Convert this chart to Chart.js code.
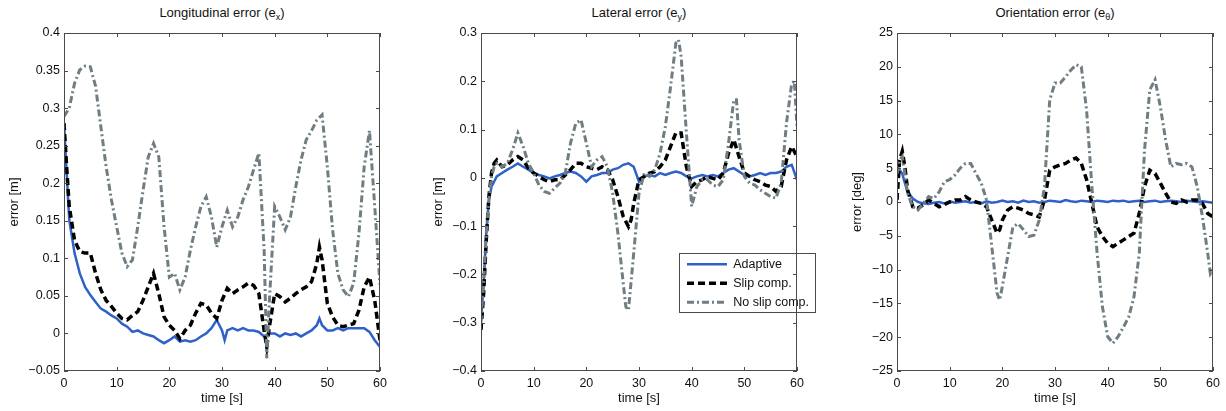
<!DOCTYPE html>
<html lang="en">
<head>
<meta charset="UTF-8">
<title>Tracking errors</title>
<script src="https://cdn.jsdelivr.net/npm/chart.js"></script>
<style>
  body { margin: 0; background: #fff; }
  #wrap { position: relative; width: 1226px; height: 411px; font-family: 'Liberation Sans', Arial, sans-serif; }
  .plotTitle { position: absolute; top: 5px; width: 300px; text-align: center; font-size: 13px; line-height: 16px; color: #111; }
  .plotTitle sub { font-size: 9px; vertical-align: -3px; line-height: 0; }
  canvas { position: absolute; top: 0; }
</style>
</head>
<body>
<div id="wrap">
  <div class="plotTitle" style="left:72px">Longitudinal error (e<sub>x</sub>)</div>
  <div class="plotTitle" style="left:489px">Lateral error (e<sub>y</sub>)</div>
  <div class="plotTitle" style="left:905px">Orientation error (e<sub>θ</sub>)</div>
  <canvas id="chartX" width="405" height="411" style="left:0"></canvas>
  <canvas id="chartY" width="425" height="411" style="left:405px"></canvas>
  <canvas id="chartTheta" width="396" height="411" style="left:830px"></canvas>
</div>

<script>
// series names (legend)
const seriesNames = ['Adaptive', 'Slip comp.', 'No slip comp.'];

// ---- longitudinal error e_x [m] ----
const exAdaptiveT = [0,0.5,1,2,3,4,5,6,7,8,9,10,11,12,13,14,15,16,17,18,19,20,21,22,23,24,25,26,27,28,29,30,30.5,31,32,33,34,35,36,37,38,39,40,41,42,43,44,45,46,47,48,48.5,49,50,51,52,53,54,55,56,57,58,59,60];
const exAdaptive = [0.280,0.215,0.151,0.107,0.080,0.062,0.051,0.042,0.033,0.029,0.024,0.020,0.013,0.009,0.002,0.004,0,-0.002,-0.004,-0.009,-0.013,-0.009,-0.004,-0.011,-0.009,-0.011,-0.009,-0.004,0,0.007,0.018,0.004,-0.009,0.004,0.007,0.004,0.007,0.004,0.004,0.002,-0.004,0,0,-0.004,0,-0.002,0,-0.004,0,0.004,0.011,0.020,0.011,0.004,0.004,0.007,0.004,0.007,0.007,0.007,0.007,0.002,-0.009,-0.018];
const exSlipT = [0,0.5,1,2,3,4,5,6,7,8,9,10,11,12,13,14,15,16,17,18,19,20,21,22,23,24,25,26,27,28,29,30,31,32,33,34,35,36,37,38,38.5,39,40,41,42,43,44,45,46,47,48,48.5,49,50,51,52,53,54,55,56,57,58,59,60];
const exSlip = [0.280,0.222,0.169,0.124,0.109,0.107,0.107,0.080,0.058,0.044,0.036,0.027,0.020,0.018,0.024,0.029,0.044,0.062,0.080,0.053,0.022,0.011,0.004,-0.007,0.004,0.011,0.027,0.040,0.038,0.027,0.020,0.044,0.060,0.053,0.058,0.062,0.067,0.064,0.053,0.004,-0.018,0.009,0.053,0.049,0.042,0.047,0.053,0.058,0.062,0.069,0.093,0.115,0.098,0.040,0.022,0.011,0.009,0.011,0.013,0.031,0.062,0.075,0.044,-0.009];
const exNoSlipT = [0,1,2,3,4,5,6,7,8,9,10,11,12,13,14,15,16,17,18,19,20,21,22,23,24,25,26,27,28,29,30,31,32,33,34,35,36,37,38,38.5,39,40,41,42,43,44,45,46,47,48,49,50,51,52,53,54,55,56,57,58,59,60];
const exNoSlip = [0.289,0.300,0.333,0.351,0.356,0.355,0.329,0.275,0.222,0.178,0.142,0.107,0.089,0.098,0.142,0.190,0.235,0.253,0.235,0.142,0.075,0.080,0.058,0.075,0.111,0.142,0.169,0.182,0.155,0.115,0.142,0.164,0.142,0.155,0.178,0.195,0.218,0.240,0.111,-0.033,0.044,0.169,0.155,0.138,0.155,0.195,0.231,0.258,0.270,0.284,0.291,0.222,0.138,0.080,0.058,0.049,0.067,0.133,0.222,0.270,0.169,0.065];

// ---- lateral error e_y [m] ----
const eyAdaptiveT = [0,0.5,1,1.5,2,3,4,5,6,7,8,9,10,11,12,13,14,15,16,17,18,19,20,21,22,23,24,25,26,27,28,29,30,31,32,33,34,35,36,37,38,39,40,41,42,43,44,45,46,47,48,49,50,51,52,53,54,55,56,57,58,59,60];
const eyAdaptive = [-0.294,-0.218,-0.115,-0.046,-0.018,0.003,0.010,0.017,0.023,0.030,0.023,0.017,0.010,0.006,0.003,-0.001,0.003,0.006,0.010,0.013,0.010,0.003,-0.008,0.003,0.006,0.010,0.010,0.017,0.020,0.027,0.030,0.023,-0.008,0.003,0.006,0.003,0.010,0.006,0.010,0.013,0.010,0.003,-0.001,0.003,0.006,0.003,0.006,0.003,0.010,0.017,0.020,0.013,0.006,0.003,0.006,0.010,0.006,0.010,0.010,0.013,0.023,0.027,-0.004];
const eySlipT = [0,0.5,1,1.5,2,2.5,3,4,5,6,7,8,9,10,11,12,13,14,15,16,17,18,19,20,21,22,23,24,25,26,27,28,28.5,29,30,31,32,33,34,35,36,37,38,39,40,41,42,43,44,45,46,47,48,49,50,51,52,53,54,55,56,57,58,59,60];
const eySlip = [-0.315,-0.239,-0.129,-0.039,0.010,0.030,0.037,0.023,0.027,0.037,0.044,0.037,0.020,0.010,0.003,-0.004,-0.008,-0.004,-0.004,0.006,0.017,0.030,0.030,0.023,0.020,0.017,0.023,0.017,-0.004,-0.039,-0.080,-0.101,-0.087,-0.053,-0.004,0.003,0.010,0.013,0.023,0.037,0.065,0.093,0.093,0.023,-0.018,-0.008,-0.004,0.003,-0.001,-0.004,0.010,0.051,0.079,0.044,0.010,0.003,-0.004,-0.008,-0.015,-0.018,-0.028,-0.018,0.037,0.065,0.044];
const eyNoSlipT = [0,0.5,1,1.5,2,2.5,3,4,5,6,7,8,9,10,11,12,13,14,15,16,17,18,19,20,21,22,23,24,25,26,27,27.5,28,29,30,31,32,33,34,35,36,37,37.5,38,39,40,41,42,43,44,45,46,47,48,48.5,49,50,51,52,53,54,55,56,57,58,59,59.5,60];
const eyNoSlip = [-0.300,-0.218,-0.115,-0.046,0.003,0.023,0.030,0.023,0.030,0.058,0.093,0.065,0.030,0.010,-0.015,-0.028,-0.032,-0.021,-0.011,0.010,0.072,0.113,0.120,0.072,0.023,0.037,0.044,0.023,-0.032,-0.115,-0.218,-0.267,-0.274,-0.156,-0.032,0.010,0.003,0.017,0.051,0.106,0.189,0.279,0.286,0.252,0.093,-0.059,-0.018,-0.004,-0.004,-0.015,-0.018,-0.004,0.072,0.162,0.162,0.079,0.003,-0.011,-0.015,-0.025,-0.032,-0.039,-0.042,-0.011,0.113,0.196,0.200,0.106];

// ---- orientation error e_theta [deg] ----
const etAdaptiveT = [0,0.5,1,1.5,2,3,4,5,6,7,8,9,10,11,12,13,14,15,16,17,18,19,20,21,22,23,24,25,26,27,28,29,30,31,32,33,34,35,36,37,38,39,40,41,42,43,44,45,46,47,48,49,50,51,52,53,54,55,56,57,58,59,60];
const etAdaptive = [5.0,4.7,4.2,2.8,1.5,0.5,0.0,-0.2,-0.3,-0.1,0.0,-0.2,0.1,-0.1,0.0,0.1,-0.1,0.0,-0.2,0.1,-0.1,0.0,0.2,0.0,0.1,-0.1,0.2,0.0,0.1,-0.1,0.0,0.2,0.1,0.0,0.3,0.1,0.0,0.2,0.1,0.0,0.2,0.1,0.0,0.2,0.1,0.2,0.0,0.1,0.2,0.0,0.1,0.2,0.0,0.1,0.2,0.1,0.0,0.2,0.1,0.0,0.1,0.0,-0.1];
const etSlipT = [0,0.3,0.5,1,1.5,2,3,4,5,6,7,8,9,10,11,12,13,14,15,16,17,18,19,19.5,20,21,22,23,24,25,26,27,28,29,30,31,32,33,34,35,36,37,38,39,40,41,42,43,44,45,46,47,48,49,50,51,52,53,54,55,56,57,58,59,60];
const etSlip = [0.3,3.8,6.2,7.5,5.2,1.8,-0.7,-0.9,-0.4,0.3,-0.2,-0.7,-0.4,0.0,0.3,0.3,0.8,0.3,0.0,-0.2,-0.7,-2.7,-4.6,-4.1,-2.7,-1.2,-0.7,-0.9,-1.2,-1.7,-1.9,-2.2,0.3,4.7,5.2,5.5,5.7,6.2,6.5,5.7,3.3,-0.2,-3.7,-5.1,-6.1,-6.6,-6.1,-5.6,-5.1,-4.6,-1.7,2.3,4.7,4.2,2.8,1.3,0.0,-0.2,0.3,0.0,0.3,0.3,-0.2,-1.7,-2.2];
const etNoSlipT = [0,0.5,1,1.5,2,3,4,5,6,7,8,9,10,11,12,13,14,15,16,17,18,19,19.5,20,21,22,23,24,25,26,27,28,29,30,31,32,33,34,35,36,37,38,39,40,41,42,43,44,45,46,47,48,49,50,51,52,53,54,55,56,57,58,59,59.5,60];
const etNoSlip = [4.2,6.2,6.7,4.2,1.3,-0.7,-1.2,-0.2,0.8,0.5,1.5,3.0,3.3,4.0,5.0,5.7,5.7,4.2,2.8,0.3,-6.6,-13.5,-14.5,-12.5,-8.1,-3.7,-3.2,-4.1,-5.1,-4.9,-2.7,2.3,15.1,17.6,17.6,18.5,19.5,20.3,20.0,13.6,2.3,-7.6,-15.5,-19.9,-20.9,-19.9,-18.5,-17.0,-14.0,-7.6,7.7,16.6,18.1,14.1,9.2,5.2,5.7,5.5,5.7,5.2,2.3,-2.2,-7.6,-10.6,-10.0];

// ---- styling ----
Chart.defaults.font.family = "'Liberation Sans', Arial, sans-serif";
Chart.defaults.font.size = 12.5;
Chart.defaults.color = '#111';

const lineStyles = [
    { borderColor: '#2f62c9', borderWidth: 2.5, borderDash: [], order: 3 },
    { borderColor: '#000000', borderWidth: 3.5, borderDash: [7, 4], order: 2 },
    { borderColor: '#707d82', borderWidth: 3, borderDash: [7, 3, 2, 3], order: 1 }
];

function pts(t, v) {
    return t.map((x, i) => ({ x: x, y: v[i] }));
}

function fmt(v) {
    const r = Math.round(v * 100) / 100;
    return r < 0 ? '\u2212' + String(-r) : String(r);
}

// legend samples: take dash/width/colour from the dataset line
function legendLabels(chart) {
    return Chart.defaults.plugins.legend.labels.generateLabels(chart).map(item => {
        const ds = chart.data.datasets[item.datasetIndex];
        item.lineDash = ds.borderDash;
        item.lineWidth = ds.borderWidth;
        item.strokeStyle = ds.borderColor;
        return item;
    });
}

// box with inward ticks on all four sides, like the original figure
const matlabBox = {
    id: 'matlabBox',
    afterDraw(chart) {
        const { ctx, chartArea: a, scales: { x, y } } = chart;
        const len = 4;
        ctx.save();
        ctx.strokeStyle = '#4a4a4a';
        ctx.lineWidth = 1;
        ctx.beginPath();
        x.ticks.forEach(t => {
            const px = Math.round(x.getPixelForValue(t.value)) + 0.5;
            ctx.moveTo(px, a.bottom); ctx.lineTo(px, a.bottom - len);
            ctx.moveTo(px, a.top); ctx.lineTo(px, a.top + len);
        });
        y.ticks.forEach(t => {
            const py = Math.round(y.getPixelForValue(t.value)) + 0.5;
            ctx.moveTo(a.left, py); ctx.lineTo(a.left + len, py);
            ctx.moveTo(a.right, py); ctx.lineTo(a.right - len, py);
        });
        ctx.stroke();
        ctx.strokeRect(Math.round(a.left) + 0.5, Math.round(a.top) + 0.5, Math.round(a.width) - 1, Math.round(a.height) - 1);
        ctx.restore();
    }
};

// moves the legend to the lower right of the lateral plot and frames it
const legendBox = {
    id: 'legendBox',
    beforeDraw(chart) {
        const lg = chart.legend;
        const a = chart.chartArea;
        const boxL = a.right - 118, boxT = a.top + 220, boxW = 136, boxH = 59;
        const pad = lg.options.labels.padding;
        lg.left = boxL + 8 - pad;
        lg.top = boxT + 5 - pad;
        lg.right = boxL + boxW;
        // leave room below so the last row is not wrapped into a new column
        lg.bottom = boxT + boxH + 40;
        lg.width = lg.right - lg.left;
        lg.height = lg.bottom - lg.top;
        const ctx = chart.ctx;
        ctx.save();
        ctx.fillStyle = '#fff';
        ctx.fillRect(boxL, boxT, boxW, boxH);
        ctx.strokeStyle = '#4a4a4a';
        ctx.lineWidth = 1;
        ctx.strokeRect(Math.round(boxL) + 0.5, Math.round(boxT) + 0.5, boxW, boxH);
        ctx.restore();
    }
};

function makeChart(id, series, yMin, yMax, yStep, yLabel, yAxisWidth, yTitlePad, rightPad, showLegend) {
    const datasets = series.map((s, i) => Object.assign({
        label: seriesNames[i],
        data: pts(s[0], s[1]),
        fill: false,
        pointRadius: 0,
        pointStyle: 'line',
        tension: 0
    }, lineStyles[i]));

    return new Chart(document.getElementById(id), {
        type: 'line',
        data: { datasets: datasets },
        options: {
            responsive: false,
            animation: false,
            layout: { padding: { top: 33, right: rightPad, bottom: 0, left: 0 } },
            scales: {
                x: {
                    type: 'linear',
                    min: 0, max: 60,
                    grid: { display: false, drawTicks: false },
                    border: { display: false },
                    ticks: { stepSize: 10, padding: 5, autoSkip: false, maxRotation: 0 },
                    title: { display: true, text: 'time [s]', font: { size: 13 }, padding: { top: 0, bottom: 5 } },
                    afterFit: s => { s.height = 40; }
                },
                y: {
                    min: yMin, max: yMax,
                    grid: { display: false, drawTicks: false },
                    border: { display: false },
                    ticks: { stepSize: yStep, padding: 4, autoSkip: false, callback: fmt },
                    title: { display: true, text: yLabel, font: { size: 13 }, padding: { top: yTitlePad, bottom: 0 } },
                    afterFit: s => { s.width = yAxisWidth; }
                }
            },
            plugins: {
                title: { display: false },
                tooltip: { enabled: false },
                legend: {
                    display: showLegend,
                    position: 'chartArea',
                    align: 'start',
                    labels: {
                        usePointStyle: true,
                        pointStyle: 'line',
                        pointStyleWidth: 40,
                        padding: 6.5,
                        color: '#111',
                        font: { size: 12.5 },
                        generateLabels: legendLabels,
                        sort: (a, b) => a.datasetIndex - b.datasetIndex
                    }
                }
            }
        },
        plugins: showLegend ? [legendBox, matlabBox] : [matlabBox]
    });
}

makeChart('chartX',
    [[exAdaptiveT, exAdaptive], [exSlipT, exSlip], [exNoSlipT, exNoSlip]],
    -0.05, 0.4, 0.05, 'error [m]', 64, 7, 25, false);

makeChart('chartY',
    [[eyAdaptiveT, eyAdaptive], [eySlipT, eySlip], [eyNoSlipT, eyNoSlip]],
    -0.4, 0.3, 0.1, 'error [m]', 76, 26, 33, true);

makeChart('chartTheta',
    [[etAdaptiveT, etAdaptive], [etSlipT, etSlip], [etNoSlipT, etNoSlip]],
    -25, 25, 5, 'error [deg]', 67, 20, 13, false);
</script>
</body>
</html>
